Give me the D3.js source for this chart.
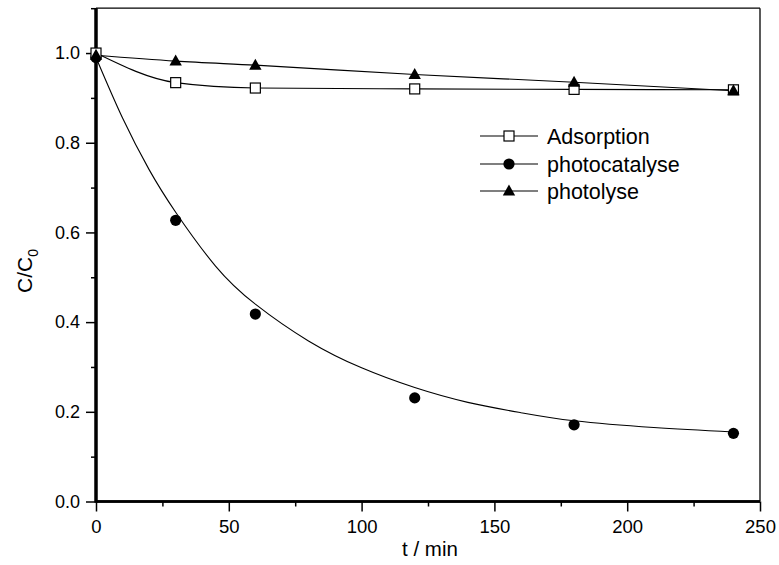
<!DOCTYPE html>
<html>
<head>
<meta charset="utf-8">
<script src="https://cdn.jsdelivr.net/npm/d3@7"></script>
<style>
  html, body { margin: 0; padding: 0; background: #fff; }
  svg { display: block; font-family: Arial, "Liberation Sans", sans-serif; }
</style>
</head>
<body>
<svg id="chart" width="779" height="565"></svg>
<script>
// Sampling times (min)
const times = [0, 30, 60, 120, 180, 240];

// Measured C/C0 for each experiment
const adsorption    = [1.000, 0.934, 0.922, 0.920, 0.919, 0.918];
const photocatalyse = [0.990, 0.627, 0.418, 0.231, 0.171, 0.152];
const photolyse     = [0.995, 0.982, 0.973, 0.952, 0.935, 0.916];

// Fitted decay curve for photocatalyse
const fitTimes  = [0, 10, 20, 30, 45, 60, 80, 100, 120, 140, 160, 180, 210, 240];
const fitValues = [0.990, 0.855, 0.740, 0.645, 0.525, 0.440, 0.358, 0.298, 0.254, 0.221, 0.198, 0.180, 0.165, 0.155];

// Axis ticks
const xMajor = [0, 50, 100, 150, 200, 250];
const xMinor = [25, 75, 125, 175, 225];
const yMajor = [0.0, 0.2, 0.4, 0.6, 0.8, 1.0];
const yMinor = [0.1, 0.3, 0.5, 0.7, 0.9, 1.1];

const seriesNames = ["Adsorption", "photocatalyse", "photolyse"];

const svg = d3.select("#chart");
const x = d3.scaleLinear().domain([0, 250]).range([96, 760]);
const y = d3.scaleLinear().domain([0, 1.1]).range([501.5, 8.2]);

// Frame: thin top/right borders
svg.append("line").attr("x1", x(0)).attr("x2", x(250)).attr("y1", y(1.1)).attr("y2", y(1.1))
  .attr("stroke", "#000").attr("stroke-width", 1.3);
svg.append("line").attr("x1", x(250)).attr("x2", x(250)).attr("y1", y(1.1)).attr("y2", y(0))
  .attr("stroke", "#000").attr("stroke-width", 1.3);

// Bottom axis
const gx = svg.append("g").attr("transform", `translate(0,${y(0)})`);
gx.call(d3.axisBottom(x).tickValues(xMajor).tickFormat(d3.format("d")).tickSize(10).tickPadding(8));
gx.append("g").call(d3.axisBottom(x).tickValues(xMinor).tickFormat("").tickSize(5));
gx.selectAll(".domain").attr("stroke-width", 2.4).attr("d", `M${x(0)},0H${x(250)}`);
gx.selectAll(".tick line").attr("stroke-width", 1.5);
gx.selectAll(".tick text").attr("font-size", 18.5).attr("fill", "#000")
  .attr("font-family", "Arial, 'Liberation Sans', sans-serif");

// Left axis
const gy = svg.append("g").attr("transform", `translate(${x(0)},0)`);
gy.call(d3.axisLeft(y).tickValues(yMajor).tickFormat(d3.format(".1f")).tickSize(10).tickPadding(6));
gy.append("g").call(d3.axisLeft(y).tickValues(yMinor).tickFormat("").tickSize(5));
gy.selectAll(".domain").attr("stroke-width", 3).attr("d", `M0,${y(0) + 1}V${y(1.1)}`);
gy.selectAll(".tick line").attr("stroke-width", 1.5);
gy.selectAll(".tick text").attr("font-size", 18).attr("fill", "#000")
  .attr("font-family", "Arial, 'Liberation Sans', sans-serif");

// Axis titles
svg.append("text").attr("x", 430).attr("y", 556).attr("text-anchor", "middle")
  .attr("font-size", 20.5).text("t / min");

const yt = svg.append("text").attr("transform", `translate(32,271) rotate(-90)`)
  .attr("text-anchor", "middle").attr("font-size", 21);
yt.append("tspan").text("C/C");
yt.append("tspan").attr("font-size", 14).attr("dy", 6).text("0");

// Marker drawing helpers
function square(g, cx, cy) {
  g.append("rect").attr("x", cx - 5).attr("y", cy - 5).attr("width", 10).attr("height", 10)
    .attr("fill", "#fff").attr("stroke", "#000").attr("stroke-width", 1.2);
}
function circle(g, cx, cy) {
  g.append("circle").attr("cx", cx).attr("cy", cy).attr("r", 5.6).attr("fill", "#000");
}
function triangle(g, cx, cy) {
  g.append("path").attr("d", `M${cx},${cy - 6.5}L${cx + 6.2},${cy + 4.5}L${cx - 6.2},${cy + 4.5}Z`)
    .attr("fill", "#000");
}
const markers = [square, circle, triangle];

const lineGen = d3.line().x(d => x(d[0])).y(d => y(d[1])).curve(d3.curveMonotoneX);
const fitGen = d3.line().x(d => x(d[0])).y(d => y(d[1])).curve(d3.curveNatural);

// Connecting curves
const plot = svg.append("g");
plot.append("path").datum(times.map((t, i) => [t, adsorption[i]])).attr("d", lineGen)
  .attr("fill", "none").attr("stroke", "#000").attr("stroke-width", 1.1);
plot.append("path").datum(times.map((t, i) => [t, photolyse[i]])).attr("d", lineGen)
  .attr("fill", "none").attr("stroke", "#000").attr("stroke-width", 1.1);
plot.append("path").datum(fitTimes.map((t, i) => [t, fitValues[i]])).attr("d", fitGen)
  .attr("fill", "none").attr("stroke", "#000").attr("stroke-width", 1.1);

// Data points
const pts = plot.append("g");
times.forEach((t, i) => circle(pts, x(t), y(photocatalyse[i])));
times.forEach((t, i) => square(pts, x(t), y(adsorption[i])));
times.forEach((t, i) => triangle(pts, x(t), y(photolyse[i])));

// Legend
const legendY = [136, 164, 191];
const leg = svg.append("g");
seriesNames.forEach((name, i) => {
  leg.append("line").attr("x1", 480).attr("x2", 538).attr("y1", legendY[i]).attr("y2", legendY[i])
    .attr("stroke", "#000").attr("stroke-width", 1.1);
  markers[i](leg, 509, legendY[i]);
  leg.append("text").attr("x", 547).attr("y", legendY[i] + 7.5).attr("font-size", 21.5)
    .text(name);
});
</script>
</body>
</html>
